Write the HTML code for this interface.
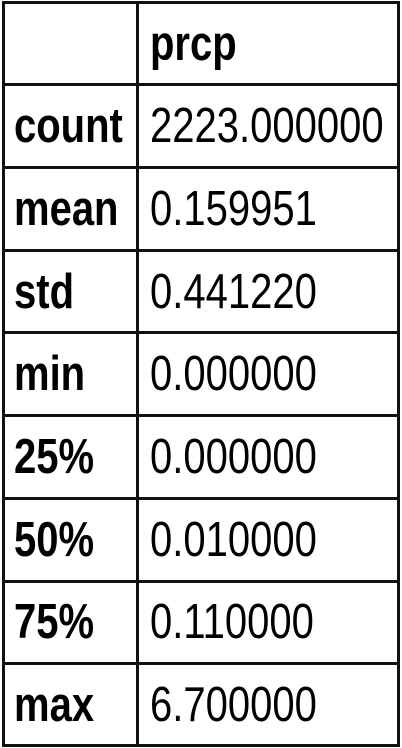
<!DOCTYPE html>
<html><head><meta charset="utf-8"><style>
body{margin:0;width:402px;height:748px;background:#fff;overflow:hidden;font-family:"Liberation Sans",Arial,sans-serif;}
.h{position:absolute;left:2px;width:398px;height:3px;background:#111;}
.v{position:absolute;top:1px;height:746px;width:3px;background:#111;}
.t{position:absolute;font-size:40px;line-height:40px;height:40px;transform:scaleY(1.22);transform-origin:left center;color:#000;white-space:nowrap;}
.b{font-weight:bold;}
</style></head><body>
<div>
<div class="h" style="top:1px"></div>
<div class="h" style="top:83px"></div>
<div class="h" style="top:166px"></div>
<div class="h" style="top:249px"></div>
<div class="h" style="top:331px"></div>
<div class="h" style="top:414px"></div>
<div class="h" style="top:497px"></div>
<div class="h" style="top:580px"></div>
<div class="h" style="top:662px"></div>
<div class="h" style="top:744px"></div>
<div class="v" style="left:2px"></div>
<div class="v" style="left:136px"></div>
<div class="v" style="left:397px"></div>
</div>
<div class="t b" style="left:150px;top:24px">prcp</div>
<div class="t b" style="left:14px;top:106px">count</div>
<div class="t" style="left:150px;top:106px">2223.000000</div>
<div class="t b" style="left:14px;top:189px">mean</div>
<div class="t" style="left:150px;top:189px">0.159951</div>
<div class="t b" style="left:14px;top:272px">std</div>
<div class="t" style="left:150px;top:272px">0.441220</div>
<div class="t b" style="left:14px;top:354px">min</div>
<div class="t" style="left:150px;top:354px">0.000000</div>
<div class="t b" style="left:14px;top:437px">25%</div>
<div class="t" style="left:150px;top:437px">0.000000</div>
<div class="t b" style="left:14px;top:520px">50%</div>
<div class="t" style="left:150px;top:520px">0.010000</div>
<div class="t b" style="left:14px;top:602px">75%</div>
<div class="t" style="left:150px;top:602px">0.110000</div>
<div class="t b" style="left:14px;top:685px">max</div>
<div class="t" style="left:150px;top:685px">6.700000</div>
</body></html>
